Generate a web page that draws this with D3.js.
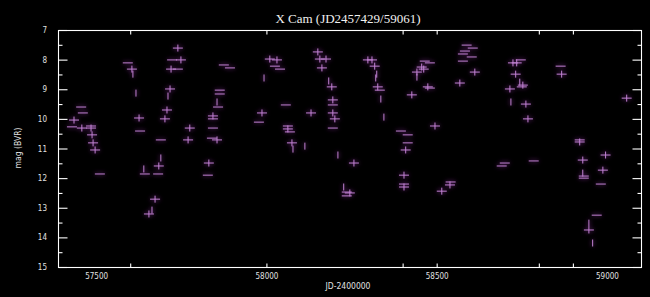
<!DOCTYPE html>
<html><head><meta charset="utf-8">
<script src="https://cdn.jsdelivr.net/npm/d3@7"></script>
<style>
html,body{margin:0;padding:0;background:#000;}
svg{display:block;}
</style></head>
<body>
<script>
// ---- data ----
const jd = [57456,57461,57435,57429,57458,57485,57485,57488,57491,57497,57511,
 57593,57605,57608,57617,57626,57629,57690,57690,57684,57640,57643,57682,57673,57664,57655,
 57740,57723,57749,57720,57740,57717,57711,57708,57702,57775,57770,57831,57828,
 57875,57893,57863,57863,57855,57858,57843,57843,57843,57840,57855,
 57993,58010,58031,58025,58040,57987,57978,58057,58063,58063,58069,58075,58078,58113,58131,
 58151,58157,58175,58163,58183,58192,58195,58195,58195,58201,58195,58210,58227,58236,58236,
 58257,58245,58298,58310,58318,58324,58321,58327,58333,58336,58345,
 58395,58415,58415,58409,58404,58404,58404,58427,58442,58442,58456,58462,58465,58480,58474,58480,58495,
 58568,58588,58606,58583,58577,58603,58577,58612,58515,58539,58541,
 58724,58735,58747,58732,58744,58753,58750,58715,58718,58762,58768,58864,58867,
 58700,58691,58785,58920,58920,58929,58929,58932,58932,58982,58970,58947,58947,58958,58996,58988,59058];
const mag = [9.60,9.80,10.04,10.27,10.31,10.24,10.31,10.54,10.81,11.05,11.86,
 8.11,8.32,8.49,9.13,9.97,10.41,10.71,11.32,11.59,11.69,11.86,11.86,12.71,13.08,13.21,
 7.61,8.01,8.01,8.32,8.32,8.99,9.23,9.70,10.00,10.31,10.71,11.49,11.90,
 8.18,8.28,9.03,9.16,9.43,9.60,9.90,10.00,10.31,10.65,10.71,
 8.62,7.98,8.01,8.22,8.32,9.80,10.11,9.53,10.24,10.34,10.44,10.81,11.02,10.92,9.80,
 7.74,7.98,7.98,8.28,8.72,8.92,9.36,9.53,9.80,10.00,10.31,11.22,12.30,12.47,12.60,
 11.49,12.50,8.01,8.01,8.22,8.49,8.62,8.92,9.03,9.33,9.94,
 10.41,10.54,10.81,11.05,11.90,12.20,12.30,9.19,8.42,8.59,8.25,8.32,8.05,8.11,8.92,8.96,10.24,
 8.79,7.51,7.61,7.71,7.81,7.91,8.05,8.42,12.44,12.23,12.13,
 8.11,8.11,8.01,8.49,8.76,8.86,8.92,8.99,9.43,9.50,10.00,8.22,8.49,
 11.49,11.59,11.42,10.71,10.78,11.39,11.83,11.93,12.00,12.20,13.25,13.52,13.75,14.19,11.22,11.73,9.30];
const sym = ["-","-","+","-","+","-","+","+","+","+","-",
 "-","+","|","|","+","-","-","|","+","|","-","-","+","|","+",
 "+","-","+","+","-","+","|","+","+","+","+","+","-",
 "-","-","-","-","|","-","+","-","-","-","+",
 "|","+","+","-","-","+","-","-","-","+","-","+","|","|","+",
 "+","+","+","+","|","+","+","-","+","+","-","|","|","-","-",
 "+","+","+","+","+","|","|","+","-","|","|",
 "-","-","-","+","+","-","+","+","+","|","+","+","-","-","+","-","+",
 "+","-","-","-","-","-","-","+","+","+","-",
 "+","+","-","+","|","+","-","+","|","+","+","-","+",
 "-","-","-","-","+","+","|","-","-","-","-","|","+","|","+","+","+"];
const xTickLabels = [57500, 58000, 58500, 59000];
const xTickMarks = [57600, 58000, 58400, 58500, 58800, 58900];
const yMajor = [7,8,9,10,11,12,13,14,15];
const yMinor = [7.5,8.5,9.5,10.5,11.5,12.5,13.5,14.5];
const titleText = "X Cam (JD2457429/59061)";
const xTitle = "JD-2400000";
const yTitle = "mag (BVR)";

// ---- chart ----
const W = 650, H = 297;
const L = 58, R = 641, T = 30, B = 267;
const svg = d3.select("body").append("svg").attr("width", W).attr("height", H)
  .style("background", "#000");

const x = d3.scaleLinear().domain([57388, 59100]).range([L, R]);
const y = d3.scaleLinear().domain([7, 15]).range([T, B]);

const defs = svg.append("defs");
defs.append("filter").attr("id", "glow").attr("x", "-100%").attr("y", "-100%")
  .attr("width", "300%").attr("height", "300%")
  .append("feGaussianBlur").attr("stdDeviation", 2.2);

const pts = jd.map((d, i) => ({jd: d, mag: mag[i], s: sym[i]}));
const lineCol = "#c283d4";

function drawMarks(g, col, w) {
  pts.forEach(p => {
    const cx = x(p.jd), cy = y(p.mag);
    if (p.s === "+" || p.s === "-") {
      g.append("line").attr("x1", cx - 5).attr("x2", cx + 5).attr("y1", cy).attr("y2", cy)
        .attr("stroke", col).attr("stroke-width", w);
    }
    if (p.s === "+" || p.s === "|") {
      g.append("line").attr("x1", cx).attr("x2", cx).attr("y1", cy - 3.5).attr("y2", cy + 3.5)
        .attr("stroke", col).attr("stroke-width", w);
    }
  });
}
const glowG = svg.append("g").attr("filter", "url(#glow)").attr("opacity", 0.5);
drawMarks(glowG, "#6a2478", 3);
const markG = svg.append("g");
drawMarks(markG, lineCol, 1);

// frame
const axCol = "#ffffff";
svg.append("rect").attr("x", L + 0.5).attr("y", T + 0.5).attr("width", R - L).attr("height", B - T)
  .attr("fill", "none").attr("stroke", axCol).attr("stroke-width", 1.1);

// y axes (left & right), ticks inward
svg.append("g").attr("transform", `translate(${L + 0.5},0)`)
  .call(d3.axisRight(y).tickValues(yMajor).tickSize(9).tickFormat(""));
svg.append("g").attr("transform", `translate(${L + 0.5},0)`)
  .call(d3.axisRight(y).tickValues(yMinor).tickSize(4).tickFormat(""));
svg.append("g").attr("transform", `translate(${R + 0.5},0)`)
  .call(d3.axisLeft(y).tickValues(yMajor).tickSize(9).tickFormat(""));
svg.append("g").attr("transform", `translate(${R + 0.5},0)`)
  .call(d3.axisLeft(y).tickValues(yMinor).tickSize(4).tickFormat(""));
// y labels
svg.append("g").attr("transform", `translate(${L - 8},0)`)
  .call(d3.axisLeft(y).tickValues(yMajor).tickSize(0).tickFormat(d3.format("d")))
  .call(g => g.select(".domain").remove());

// x axes bottom & top, ticks inward
svg.append("g").attr("transform", `translate(0,${B + 0.5})`)
  .call(d3.axisTop(x).tickValues(xTickMarks).tickSize(4).tickFormat(""));
svg.append("g").attr("transform", `translate(0,${T + 0.5})`)
  .call(d3.axisBottom(x).tickValues(xTickMarks).tickSize(4).tickFormat(""));
svg.append("g").attr("transform", `translate(0,${B + 3})`)
  .call(d3.axisBottom(x).tickValues(xTickLabels).tickSize(0).tickFormat(d3.format("d")))
  .call(g => g.select(".domain").remove());

svg.selectAll(".domain").attr("stroke", "none");
svg.selectAll(".tick line").attr("stroke", axCol).attr("stroke-width", 1.1);
svg.selectAll(".tick text").attr("fill", "#e0e0e0")
  .style("font-family", "'DejaVu Sans Condensed','DejaVu Sans',sans-serif").style("font-size", "8px");

// titles
svg.append("text").attr("x", 348).attr("y", 23).attr("text-anchor", "middle")
  .attr("fill", "#f0f0f0").style("font-family", "'Liberation Serif','DejaVu Serif',serif")
  .style("font-size", "13px").text(titleText);
svg.append("text").attr("x", 348).attr("y", 289).attr("text-anchor", "middle")
  .attr("fill", "#e0e0e0").style("font-family", "'DejaVu Sans Condensed','DejaVu Sans',sans-serif")
  .style("font-size", "8.5px").text(xTitle);
svg.append("text").attr("transform", "translate(21,148) rotate(-90)").attr("text-anchor", "middle")
  .attr("fill", "#e0e0e0").style("font-family", "'DejaVu Sans Condensed','DejaVu Sans',sans-serif")
  .style("font-size", "8.5px").text(yTitle);
</script>
</body></html>
